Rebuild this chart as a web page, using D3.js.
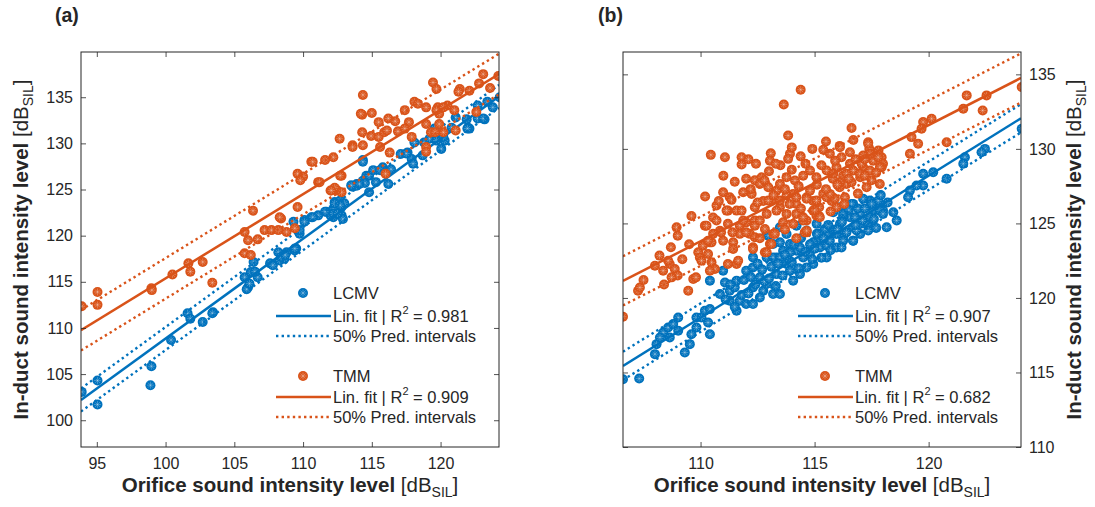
<!DOCTYPE html>
<html>
<head>
<meta charset="utf-8">
<script src="https://cdn.jsdelivr.net/npm/d3@7"></script>
<style>
  body { margin: 0; background: #fff; }
  text { font-family: "Liberation Sans", Arial, sans-serif; fill: #262626; }
</style>
</head>
<body>
<script>
// panel (a) data  [orifice SIL, in-duct SIL]
var aLcmv = [
  [93.9,103.07],[95.05,104.3],[95.05,101.7],[98.97,105.85],[98.9,103.8],[100.4,108.7],[101.6,111.6],[101.8,111.0],
  [102.7,110.65],[103.45,111.7],[103.4,111.6],[105.75,115.5],[106.0,114.4],[106.2,116.05],[106.4,117.15],[106.7,115.5],
  [105.9,114.2],[106.1,114.8],[106.5,116.1],[107.6,117.0],[107.8,116.8],[108.3,117.3],[108.65,117.5],[108.8,118.2],
  [109.4,118.4],[108.2,118.2],[108.4,117.7],[109.5,118.6],[109.75,120.2],[110.1,121.7],[110.6,122.0],[111.1,122.2],
  [111.7,122.6],[112.4,122.9],[112.8,123.1],[112.3,123.65],[112.7,123.8],[113.0,123.5],[112.8,122.2],[112.2,122.0],
  [113.6,125.3],[113.9,125.6],[114.35,125.8],[114.6,126.5],[114.35,128.2],[109.3,121.5],[112.2,122.9],[112.7,123.3],
  [112.0,122.2],[112.9,121.8],[113.9,125.4],[114.35,125.95],[114.8,126.5],[114.35,128.0],[115.1,127.1],[115.8,127.4],
  [116.4,127.2],[115.3,125.8],[116.2,125.6],[117.1,128.85],[117.6,129.0],[118.1,130.1],[117.9,128.3],[118.8,130.1],
  [119.2,130.5],[119.56,131.6],[119.9,130.8],[120.3,130.3],[120.8,131.7],[121.1,132.8],[121.9,132.6],[122.0,131.7],
  [122.7,134.1],[123.2,132.6],[123.4,134.5],[123.8,133.9],[124.3,135.0],[122.1,131.6],[120.05,129.4],[122.7,132.7],
  [123.1,132.7],[121.95,131.6],[119.7,130.3],[120.2,130.7],[118.7,128.7],[118.0,127.8],[117.5,128.9],[114.5,125.7],
  [115.6,127.1],[114.8,124.7],[114.1,125.6],[113.5,125.45],[112.3,123.5],[112.2,122.4],[112.5,122.4],[111.6,122.6],
  [110.7,122.0],[110.1,121.5],[109.75,120.6],[109.4,118.6],[108.7,117.9]
];
var aTmm = [
  [93.9,112.35],[95.05,113.9],[95.05,112.5],[98.97,114.3],[99.0,114.1],[100.5,115.8],[101.66,117.0],[101.8,116.1],
  [102.7,117.15],[103.4,114.9],[105.75,118.1],[106.2,117.9],[106.36,122.7],[105.75,120.4],[106.0,119.5],[106.7,119.6],
  [107.2,120.6],[107.7,120.6],[108.2,120.6],[108.8,120.4],[109.4,120.8],[108.4,121.85],[108.3,122.0],[109.6,123.1],
  [109.6,126.7],[110.0,126.4],[109.8,126.0],[111.1,125.8],[110.6,128.0],[111.6,128.2],[112.2,128.5],[112.0,124.9],
  [112.5,124.9],[112.8,126.5],[112.66,130.5],[113.6,129.8],[114.35,129.8],[113.6,129.6],[114.35,135.25],[114.3,133.1],
  [115.0,133.3],[115.5,132.3],[116.2,132.7],[116.7,132.4],[114.3,131.2],[114.95,130.8],[115.5,130.7],[115.9,131.2],
  [116.9,131.3],[117.4,133.6],[118.1,134.5],[118.35,134.3],[118.95,133.9],[119.45,136.6],[119.7,135.9],[117.7,132.3],
  [118.95,132.1],[119.3,131.2],[119.8,133.9],[119.9,133.2],[120.5,134.1],[121.0,133.6],[121.4,135.9],[122.1,135.7],
  [122.8,136.5],[123.1,137.5],[124.2,137.3],[122.6,133.4],[121.1,131.4],[120.2,131.2],[118.95,129.6],[118.95,129.1],
  [116.0,126.7],[112.3,125.2],[116.3,129.0],[115.6,129.6],[117.9,130.7],[121.3,135.6],[123.6,136.0],[110.7,128.0],
  [111.2,125.8],[112.05,124.9],[112.8,124.7],[114.2,133.2],[116.1,131.4],[117.4,131.6],[119.7,133.6],[120.2,133.9],
  [119.9,132.1],[119.6,131.2],[112.7,126.5]
];
// fit params: slope, intercept, half width of 50% prediction interval
var aLcmvFit = [1.082, 0.65, 1.25];
var aTmmFit = [0.913, 24.07, 2.2];
var aR2 = ["0.981", "0.909"];

// panel (b) data
var bLcmv = [
  [106.6,114.55],[107.31,114.59],[108.0,116.23],[108.07,116.9],[108.36,117.68],[108.58,118.02],[108.22,117.35],[108.65,117.35],
  [108.8,118.25],[109.02,118.69],[109.02,117.8],[109.31,116.34],[109.53,116.9],[109.6,117.57],[109.82,118.02],[109.82,118.69],
  [110.04,118.69],[110.19,119.14],[110.41,119.25],[110.41,117.57],[110.33,118.35],[110.41,121.16],[110.99,121.83],[111.07,121.04],
  [110.85,120.26],[111.28,120.48],[111.5,120.71],[111.28,119.81],[111.58,119.14],[111.72,119.81],[112.0,119.59],[112.0,121.83],
  [112.3,122.05],[112.6,121.38],[112.3,120.71],[112.3,119.59],[112.75,120.48],[112.9,120.93],[113.18,120.26],[113.48,120.26],
  [113.33,121.6],[112.9,122.72],[113.33,122.72],[113.77,122.28],[113.92,121.83],[114.06,121.16],[114.36,121.6],[113.18,122.72],
  [113.62,123.17],[113.92,123.62],[114.21,123.17],[114.5,122.72],[114.79,122.95],[115.23,123.39],[115.53,122.72],[114.94,122.28],
  [114.65,122.05],[115.09,123.84],[115.53,124.29],[115.82,124.52],[116.11,124.97],[116.55,125.41],[116.69,124.74],[117.28,124.97],
  [117.57,125.86],[117.86,126.08],[116.69,123.84],[116.25,124.07],[115.96,123.39],[117.0,124.29],[112.9,124.29],[113.18,123.62],
  [113.48,124.74],[113.77,124.29],[112.3,122.72],[111.58,121.16],[112.6,120.03],[112.97,124.18],[113.48,123.73],[114.21,124.85],
  [114.65,124.52],[115.09,124.97],[115.45,124.63],[115.82,125.75],[116.11,126.08],[116.25,125.41],[116.69,126.31],[116.99,125.64],
  [117.43,126.53],[118.0,125.86],[116.84,124.52],[116.25,123.84],[115.53,123.5],[114.94,123.73],[114.36,123.39],[113.92,123.06],
  [113.48,122.72],[117.43,124.74],[118.16,124.74],[118.6,125.19],[118.45,125.75],[124.08,131.35],[122.47,130.0],[122.32,129.78],
  [121.59,129.44],[121.52,129.0],[120.79,128.0],[120.2,128.43],[119.76,128.33],[119.76,127.54],[119.47,127.54],[119.18,127.2],
  [119.1,126.75],[117.79,126.53],[117.86,125.86],[117.5,126.31],[117.13,126.65],[117.43,125.41],[118.0,125.64],[116.62,126.31],
  [116.25,125.64],[116.77,125.41],[115.96,124.29],[116.18,123.39],[115.67,123.84],[116.69,123.84],[117.35,124.52],[117.0,124.97],
  [111.1,119.9],[111.3,120.9],[111.5,119.4],[111.8,120.2],[111.9,121.2],[112.1,120.3],[112.2,121.4],[112.4,120.9],
  [112.5,122.3],[112.7,121.9],[112.8,121.1],[113.0,121.3],[113.1,122.1],[113.3,120.8],[113.4,122.3],[113.6,121.5],
  [113.7,122.9],[113.9,122.5],[114.0,122.4],[114.1,123.6],[114.3,122.0],[114.4,124.0],[114.6,123.1],[114.8,123.6],
  [114.9,122.6],[115.0,123.3],[115.1,124.3],[115.3,122.7],[115.4,124.0],[115.6,124.9],[115.7,123.2],[115.9,124.6],
  [116.0,124.6],[116.2,125.1],[116.4,124.4],[116.5,125.9],[116.8,124.9],[116.9,126.0],[117.1,125.2],[117.2,126.0],
  [117.6,125.3],[117.7,124.7],[117.9,126.9],[118.2,126.4]
];
var bTmm = [
  [114.39,133.97],[113.65,132.98],[113.84,130.9],[116.62,131.4],[110.45,129.6],[111.07,129.44],[111.8,129.44],[111.8,128.95],
  [112.43,129.0],[113.08,129.7],[113.04,129.2],[113.92,129.67],[113.84,129.33],[114.39,129.5],[115.38,129.94],[116.1,130.2],
  [117.35,130.45],[117.4,130.0],[117.8,129.9],[117.94,129.44],[118.0,129.0],[112.0,128.0],[112.38,127.9],[112.68,128.1],
  [112.6,127.65],[110.99,127.09],[111.28,126.75],[111.87,127.09],[112.24,126.98],[112.97,127.43],[113.33,127.2],[113.48,127.65],
  [113.77,128.1],[114.14,127.88],[114.5,128.2],[114.8,128.55],[115.08,128.1],[115.53,128.55],[115.8,128.0],[116.25,128.2],
  [116.7,128.55],[117.13,128.77],[117.57,129.2],[117.94,128.77],[116.1,127.43],[116.4,127.65],[117.28,127.43],[117.86,127.65],
  [117.0,128.1],[110.7,126.2],[111.2,125.86],[111.58,125.86],[111.8,125.86],[110.55,125.4],[110.19,124.85],[112.38,126.08],
  [112.75,126.5],[113.1,126.5],[113.48,126.08],[112.9,125.64],[114.06,126.98],[114.2,126.3],[114.65,126.75],[114.94,126.5],
  [115.38,126.98],[115.75,126.5],[113.77,125.64],[114.2,125.64],[115.08,125.52],[114.65,125.19],[115.2,126.08],[115.8,126.75],
  [115.96,126.08],[111.2,124.97],[111.72,124.85],[112.0,125.07],[112.38,125.19],[110.85,124.5],[110.99,123.84],[111.72,124.3],
  [112.16,124.3],[111.43,123.73],[110.4,123.73],[109.9,123.06],[109.97,122.72],[108.2,122.84],[109.0,124.18],[112.82,124.63],
  [113.04,123.62],[113.19,124.3],[112.3,123.4],[112.82,123.06],[114.5,125.19],[114.65,124.4],[115.2,125.5],[106.6,118.74],
  [107.26,120.48],[107.34,120.7],[108.0,122.16],[108.36,121.83],[108.65,122.28],[108.87,121.94],[109.0,121.5],[108.73,121.38],
  [109.46,120.48],[109.68,121.27],[109.8,121.38],[110.04,122.5],[110.33,122.95],[110.48,122.39],[110.63,121.94],[110.41,121.83],
  [110.1,123.5],[110.48,123.73],[110.55,124.3],[110.9,124.4],[111.43,123.29],[111.58,122.28],[111.2,122.28],[111.65,122.5],
  [111.14,125.86],[110.7,125.19],[110.26,124.85],[111.87,125.19],[112.0,124.4],[112.38,124.07],[112.3,123.29],[112.38,124.85],
  [112.6,125.19],[112.9,123.06],[113.1,123.62],[113.26,124.3],[112.97,126.53],[113.48,126.53],[113.33,125.86],[113.62,125.07],
  [114.06,124.97],[114.5,125.41],[114.57,124.4],[114.94,125.86],[115.23,125.41],[113.77,126.87],[114.2,126.75],[114.65,126.65],
  [115.08,126.53],[115.53,126.75],[114.65,124.5],[111.36,126.58],[110.33,123.84],[108.95,124.74],[108.58,122.5],[124.08,134.15],
  [121.67,133.59],[122.54,133.59],[121.52,132.69],[122.37,132.58],[119.76,131.8],[120.13,132.02],[119.69,131.35],[119.25,130.79],
  [119.54,130.34],[119.18,129.67],[120.79,130.45],[117.35,130.34],[117.43,129.67],[117.79,129.44],[117.13,129.56],[117.06,129.0],
  [117.86,128.77],[116.55,129.78],[116.11,130.11],[115.67,129.67],[116.18,129.44],[116.55,129.0],[115.96,128.77],[116.4,128.33],
  [116.99,128.33],[117.43,128.55],[115.82,128.33],[116.11,127.76],[116.62,127.76],[115.89,126.65],[116.33,126.75],[115.67,126.98],
  [112.2,127.3],[112.5,126.4],[112.8,127.9],[113.0,128.5],[113.2,126.9],[113.5,128.9],[113.7,127.3],[113.9,126.3],
  [114.0,128.6],[114.3,127.5],[114.4,126.0],[114.6,129.0],[114.8,127.2],[115.0,125.9],[115.1,127.6],[115.3,128.9],
  [115.5,127.3],[115.7,125.8],[115.9,129.2],[116.0,127.6],[116.3,126.3],[116.5,128.0],[116.8,129.3],[116.9,127.0],
  [117.2,128.2],[117.5,127.9],[117.7,128.4],[117.2,129.3],[116.7,130.6],[115.5,130.5],[114.9,130.0],[114.0,130.1],
  [113.3,129.0],[112.1,129.3],[111.5,127.8],[111.0,128.2],[110.8,126.5],[111.4,124.4],[112.6,124.0],[113.7,124.6],
  [114.2,124.0],[110.2,126.8],[109.6,125.5],[109.5,123.6],[108.7,123.4],[109.2,122.6],[108.4,120.9],[107.5,121.2]
];
var bLcmvFit = [0.952, 13.96, 0.95];
var bTmmFit = [0.78, 38.0, 1.65];
var bR2 = ["0.907", "0.682"];

var aXTicks = [95, 100, 105, 110, 115, 120];
var aYTicks = [100, 105, 110, 115, 120, 125, 130, 135];
var bXTicks = [110, 115, 120];
var bYTicks = [110, 115, 120, 125, 130, 135];

var blue = "#0072BD", orange = "#D95319", axisCol = "#262626";

var svg = d3.select("body").append("svg").attr("width", 1095).attr("height", 507);

function drawPanel(opt) {
  var x = d3.scaleLinear().domain(opt.xDom).range([opt.left, opt.right]);
  var y = d3.scaleLinear().domain(opt.yDom).range([opt.bottom, opt.top]);
  var g = svg.append("g");

  g.append("rect").attr("x", opt.left).attr("y", opt.top)
    .attr("width", opt.right - opt.left).attr("height", opt.bottom - opt.top).attr("fill", "#fff");

  var clipId = "clip" + opt.name;
  g.append("clipPath").attr("id", clipId).append("rect")
    .attr("x", opt.left).attr("y", opt.top)
    .attr("width", opt.right - opt.left).attr("height", opt.bottom - opt.top);
  var plot = g.append("g").attr("clip-path", "url(#" + clipId + ")");

  function scatter(pts, col) {
    var m = plot.append("g").selectAll("g").data(pts).enter().append("g")
      .attr("transform", function (d) { return "translate(" + x(d[0]) + "," + y(d[1]) + ")"; });
    m.append("circle").attr("r", 5).attr("fill", col);
    m.append("path").attr("d", "M-3.5,0H3.5M0,-3.5V3.5M-2.5,-2.5L2.5,2.5M-2.5,2.5L2.5,-2.5")
      .attr("stroke", "rgba(255,255,255,0.35)").attr("stroke-width", 0.7);
  }
  function fitLines(fit, col) {
    var xs = opt.xDom;
    [0, 1, -1].forEach(function (k) {
      plot.append("line")
        .attr("x1", x(xs[0])).attr("y1", y(fit[0] * xs[0] + fit[1] + k * fit[2]))
        .attr("x2", x(xs[1])).attr("y2", y(fit[0] * xs[1] + fit[1] + k * fit[2]))
        .attr("stroke", col)
        .attr("stroke-width", k === 0 ? 2.5 : 2.4)
        .attr("stroke-dasharray", k === 0 ? null : "2.4,3.2");
    });
  }
  scatter(opt.lcmv, blue);
  fitLines(opt.lcmvFit, blue);
  scatter(opt.tmm, orange);
  fitLines(opt.tmmFit, orange);

  // axes, MATLAB style: ticks inside, box on
  var tl = 5;
  var side = opt.yRight ? d3.axisRight(y) : d3.axisLeft(y);
  var yAx = g.append("g").attr("transform", "translate(" + (opt.yRight ? opt.right : opt.left) + ",0)")
    .call(side.tickValues(opt.yTicks).tickSizeInner(-tl).tickSizeOuter(0).tickPadding(8));
  var yAx2 = g.append("g").attr("transform", "translate(" + (opt.yRight ? opt.left : opt.right) + ",0)")
    .call((opt.yRight ? d3.axisLeft(y) : d3.axisRight(y)).tickValues(opt.yTicks).tickSizeInner(-tl).tickSizeOuter(0).tickFormat(""));
  var xAx = g.append("g").attr("transform", "translate(0," + opt.bottom + ")")
    .call(d3.axisBottom(x).tickValues(opt.xTicks).tickSizeInner(-tl).tickSizeOuter(0).tickPadding(11));
  var xAx2 = g.append("g").attr("transform", "translate(0," + opt.top + ")")
    .call(d3.axisTop(x).tickValues(opt.xTicks).tickSizeInner(-tl).tickSizeOuter(0).tickFormat(""));
  [yAx, yAx2, xAx, xAx2].forEach(function (a) {
    a.selectAll(".domain").remove();
    a.selectAll("line").attr("stroke", axisCol).attr("stroke-width", 0.8);
    a.selectAll("text").attr("font-size", 16).attr("font-family", "Liberation Sans, Arial, sans-serif").attr("fill", axisCol);
  });
  g.append("rect").attr("x", opt.left).attr("y", opt.top)
    .attr("width", opt.right - opt.left).attr("height", opt.bottom - opt.top)
    .attr("fill", "none").attr("stroke", axisCol).attr("stroke-width", 1);

  // axis labels
  function unitLabel(t, main) {
    t.append("tspan").attr("font-weight", "bold").text(main);
    t.append("tspan").text(" [dB");
    t.append("tspan").attr("font-size", 14).attr("dy", 5).text("SIL");
    t.append("tspan").attr("dy", -5).text("]");
  }
  var cx = (opt.left + opt.right) / 2, cy = (opt.top + opt.bottom) / 2;
  unitLabel(g.append("text").attr("x", cx).attr("y", 492).attr("text-anchor", "middle").attr("font-size", 20.5),
    "Orifice sound intensity level");
  unitLabel(g.append("text").attr("text-anchor", "middle").attr("font-size", 20.5)
    .attr("transform", "translate(" + opt.yLabelX + "," + cy + ") rotate(-90)"),
    "In-duct sound intensity level");

  g.append("text").attr("x", opt.titleX).attr("y", 22).attr("font-size", 19.5).attr("font-weight", "bold").text(opt.title);

  // legend
  var lx = opt.right - 223, rows = [293, 316, 336, 376, 397, 417];
  var items = [
    { type: "m", col: blue, txt: "LCMV" },
    { type: "s", col: blue, r2: opt.r2[0] },
    { type: "d", col: blue, txt: "50% Pred. intervals" },
    { type: "m", col: orange, txt: "TMM" },
    { type: "s", col: orange, r2: opt.r2[1] },
    { type: "d", col: orange, txt: "50% Pred. intervals" }
  ];
  var leg = g.append("g");
  items.forEach(function (it, i) {
    var yy = rows[i];
    if (it.type === "m") {
      leg.append("circle").attr("cx", lx + 27).attr("cy", yy).attr("r", 5).attr("fill", it.col);
      leg.append("path").attr("transform", "translate(" + (lx + 27) + "," + yy + ")")
        .attr("d", "M-3.5,0H3.5M0,-3.5V3.5M-2.5,-2.5L2.5,2.5M-2.5,2.5L2.5,-2.5")
        .attr("stroke", "rgba(255,255,255,0.35)").attr("stroke-width", 0.7);
    } else {
      leg.append("line").attr("x1", lx).attr("x2", lx + 55).attr("y1", yy).attr("y2", yy)
        .attr("stroke", it.col).attr("stroke-width", 2.5)
        .attr("stroke-dasharray", it.type === "d" ? "2.4,3.2" : null);
    }
    var t = leg.append("text").attr("x", lx + 57).attr("y", yy + 6).attr("font-size", 16.5);
    if (it.type === "s") {
      t.append("tspan").text("Lin. fit | R");
      t.append("tspan").attr("font-size", 11).attr("dy", -8).text("2");
      t.append("tspan").attr("dy", 8).text(" = " + it.r2);
    } else {
      t.text(it.txt);
    }
  });
}

drawPanel({
  name: "a", title: "(a)", titleX: 55,
  left: 81, right: 499, top: 52, bottom: 447,
  xDom: [93.85, 124.25], yDom: [97.1, 139.9],
  xTicks: aXTicks, yTicks: aYTicks, yRight: false, yLabelX: 28,
  lcmv: aLcmv, tmm: aTmm, lcmvFit: aLcmvFit, tmmFit: aTmmFit, r2: aR2
});
drawPanel({
  name: "b", title: "(b)", titleX: 598,
  left: 623, right: 1021, top: 52, bottom: 447,
  xDom: [106.6, 124.05], yDom: [110, 136.5],
  xTicks: bXTicks, yTicks: bYTicks, yRight: true, yLabelX: 1081,
  lcmv: bLcmv, tmm: bTmm, lcmvFit: bLcmvFit, tmmFit: bTmmFit, r2: bR2
});
</script>
</body>
</html>
